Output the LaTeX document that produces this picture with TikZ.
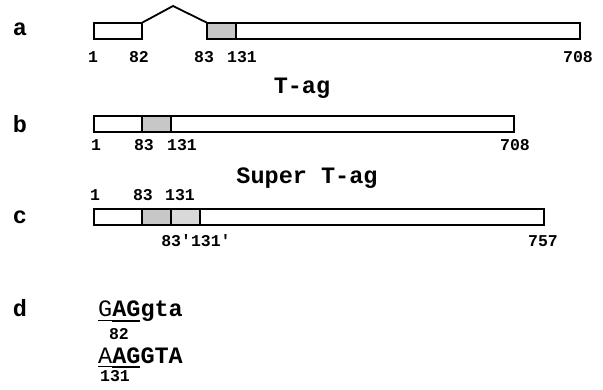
\documentclass[tikz,border=0pt]{standalone}
\usepackage{fontspec}
\setmainfont{Liberation Mono}[Ligatures=TeXOff]
\begin{document}
\begin{tikzpicture}[x=1pt,y=-1pt,
  seg/.style={draw,line width=1.1pt,minimum height=16pt,inner sep=0pt,fill=white},
  shade/.style={seg,fill=black!22},
  shadeb/.style={seg,fill=black!15},
  num/.style={font=\fontsize{16.5}{18}\selectfont\bfseries,inner sep=0pt},
  big/.style={font=\fontsize{23.5}{26}\selectfont\bfseries,inner sep=0pt},
  seq/.style={font=\fontsize{23.5}{26}\selectfont\bfseries,inner sep=0pt,anchor=base west},
  intron/.style={line width=1.8pt,line join=miter}]
\useasboundingbox (0,0) rectangle (603,389);
% row a
\node[big,anchor=base] (la) at (20,35) {a};
\node[seg,minimum width=48pt] (a1) at (118,31) {};
\node[shade,minimum width=29pt] (a2) at (221.5,31) {};
\node[seg,minimum width=344pt] (a3) at (408,31) {};
\coordinate (apeak) at (173,6);
\draw[intron] (a1.north east) -- (apeak) -- (a2.north west);
\node[num] (na1) at (93,57) {1};
\node[num] (na2) at (139,57) {82};
\node[num] (na3) at (204,57) {83};
\node[num] (na4) at (242,57) {131};
\node[num] (na5) at (578,57) {708};
% title b
\node[big] (tb) at (302,88) {T-ag};
% row b
\node[big,anchor=base] (lb) at (20,132) {b};
\node[seg,minimum width=48pt] (b1) at (118,124) {};
\node[shade,minimum width=29pt] (b2) at (156.5,124) {};
\node[seg,minimum width=343pt] (b3) at (342.5,124) {};
\node[num] (nb1) at (96,145) {1};
\node[num] (nb2) at (144,145) {83};
\node[num] (nb3) at (182,145) {131};
\node[num] (nb4) at (515,145) {708};
% title c
\node[big] (tc) at (307,178) {Super T-ag};
% row c
\node[big,anchor=base] (lc) at (20,223) {c};
\node[num] (nc1) at (95,195) {1};
\node[num] (nc2) at (143,195) {83};
\node[num] (nc3) at (180,195) {131};
\node[seg,minimum width=48pt] (c1) at (118,217) {};
\node[shade,minimum width=29pt] (c2) at (156.5,217) {};
\node[shadeb,minimum width=29pt] (c3) at (185.5,217) {};
\node[seg,minimum width=344pt] (c4) at (372,217) {};
\node[num] (nc4) at (196,241) {83'131'};
\node[num] (nc5) at (543,241) {757};
% row d
\node[big,anchor=base] (ld) at (20,316) {d};
\node[seq] (s1) at (98,316) {{\mdseries G}AGgta};
\draw[line width=0.8pt] (98,320) -- (112,320);
\draw[line width=2pt] (112,320.5) -- (140,320.5);
\node[num] (n82) at (119,334) {82};
\node[seq] (s2) at (98,363) {{\mdseries A}AGGTA};
\draw[line width=0.8pt] (98,366.5) -- (112,366.5);
\draw[line width=2pt] (112,367) -- (140,367);
\node[num] (n131) at (115,376) {131};
\end{tikzpicture}
\end{document}
